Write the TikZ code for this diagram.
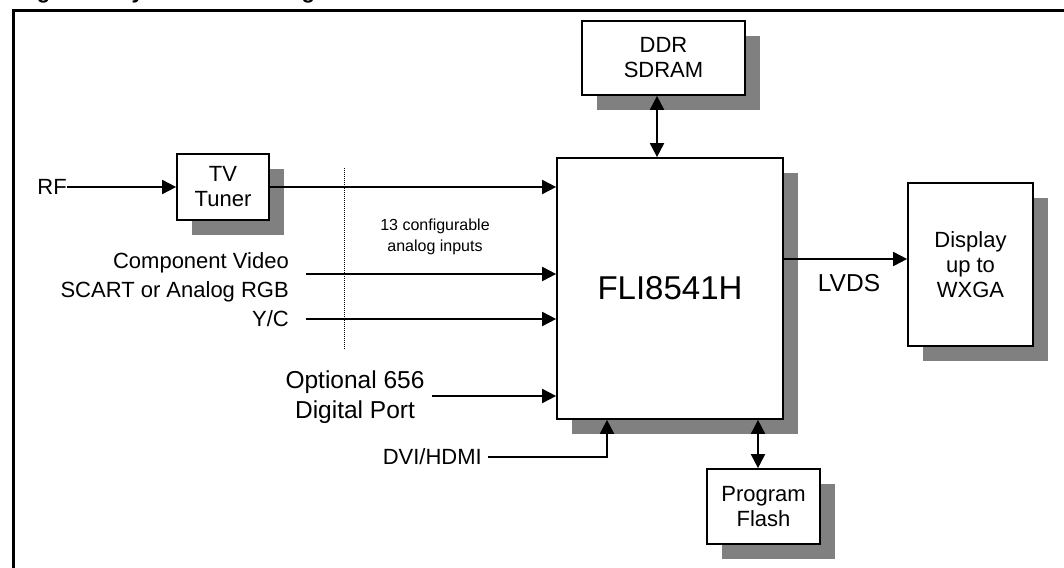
\documentclass[tikz,border=0pt]{standalone}
\usepackage{fontspec}
\setmainfont{Liberation Sans}
\usetikzlibrary{arrows.meta,shadows}
\definecolor{shadowgray}{RGB}{128,128,128}
\begin{document}
\begin{tikzpicture}[x=1pt,y=-1pt,
  box/.style={draw, line width=1.7pt, fill=white, rectangle, inner sep=0pt, align=center,
    font=\fontsize{22}{25}\selectfont,
    drop shadow={shadow xshift=15pt, shadow yshift=-15pt, fill=shadowgray, opacity=1}},
  lbl/.style={inner sep=0pt, font=\fontsize{22}{29}\selectfont},
  biglbl/.style={inner sep=0pt, align=center, font=\fontsize{24.5}{30}\selectfont},
  smalllbl/.style={inner sep=0pt, align=center, font=\fontsize{16}{21}\selectfont},
  arr/.style={line width=1.8pt, -{Triangle[length=14pt,width=14pt]}},
  biarr/.style={line width=1.8pt, {Triangle[length=14pt,width=14pt]}-{Triangle[length=14pt,width=14pt]}},
  dots/.style={line width=0.9pt, dash pattern=on 1pt off 1pt},
  frame/.style={line width=3pt}
  ]
\useasboundingbox (0,0) rectangle (1064,567);

% frame and (cut) title
\draw[frame] (13,570) -- (13,11) -- (1070,11);
\node[anchor=base west, inner sep=0pt, font=\bfseries\fontsize{22}{26}\selectfont] (title) at (17,-1.5) {Figure 1. System Block Diagram};

% boxes
\node[box, minimum width=92pt, minimum height=66pt] (tuner) at (223,187) {TV\\Tuner};
\node[box, minimum width=163pt, minimum height=74pt] (ddr) at (663.5,58) {DDR\\SDRAM};
\node[box, minimum width=226pt, minimum height=261pt, font=\fontsize{33}{38}\selectfont] (fli) at (670,288.5) {FLI8541H};
\node[box, minimum width=125pt, minimum height=163pt] (disp) at (970.5,264.5) {Display\\up to\\WXGA};
\node[box, minimum width=113pt, minimum height=75pt] (flash) at (763.5,506.5) {Program\\Flash};

% labels
\node[lbl, anchor=east] (rf) at (67,187) {RF};
\node[lbl, anchor=east, align=right] (comp) at (289,277.5) {Component Video\\SCART or Analog RGB};
\node[lbl, anchor=east] (yc) at (289,319) {Y/C};
\node[smalllbl] (cfg) at (435,237) {13 configurable\\analog inputs};
\node[biglbl] (opt) at (355,397) {Optional 656\\Digital Port};
\node[lbl, anchor=east] (dvi) at (482,457) {DVI/HDMI};
\node[biglbl] (lvds) at (849,283) {LVDS};

% helper coordinates
\coordinate (cstart) at (306,274);
\coordinate (ycstart) at (306,319);
\coordinate (optstart) at (432,396);
\coordinate (dvistart) at (488,457);
\coordinate (dvicorner) at (607,457);
\coordinate (lvdsy) at (0,259);
\coordinate (ddrx) at (657,0);
\coordinate (flashx) at (758,0);
\coordinate (dottop) at (344,168);
\coordinate (dotbot) at (344,350);

% connectors
\draw[arr] (rf.east) -- (rf.east -| tuner.west);
\draw[arr] (tuner.east) -- (tuner.east -| fli.west);
\draw[arr] (cstart) -- (cstart -| fli.west);
\draw[arr] (ycstart) -- (ycstart -| fli.west);
\draw[arr] (optstart) -- (optstart -| fli.west);
\draw[arr] (dvistart) -- (dvicorner) -- (dvicorner |- fli.south);
\draw[arr] (fli.east |- lvdsy) -- (disp.west |- lvdsy);
\draw[biarr] (ddr.south -| ddrx) -- (fli.north -| ddrx);
\draw[biarr] (fli.south -| flashx) -- (flash.north -| flashx);
\draw[dots] (dottop) -- (dotbot);
\end{tikzpicture}
\end{document}
